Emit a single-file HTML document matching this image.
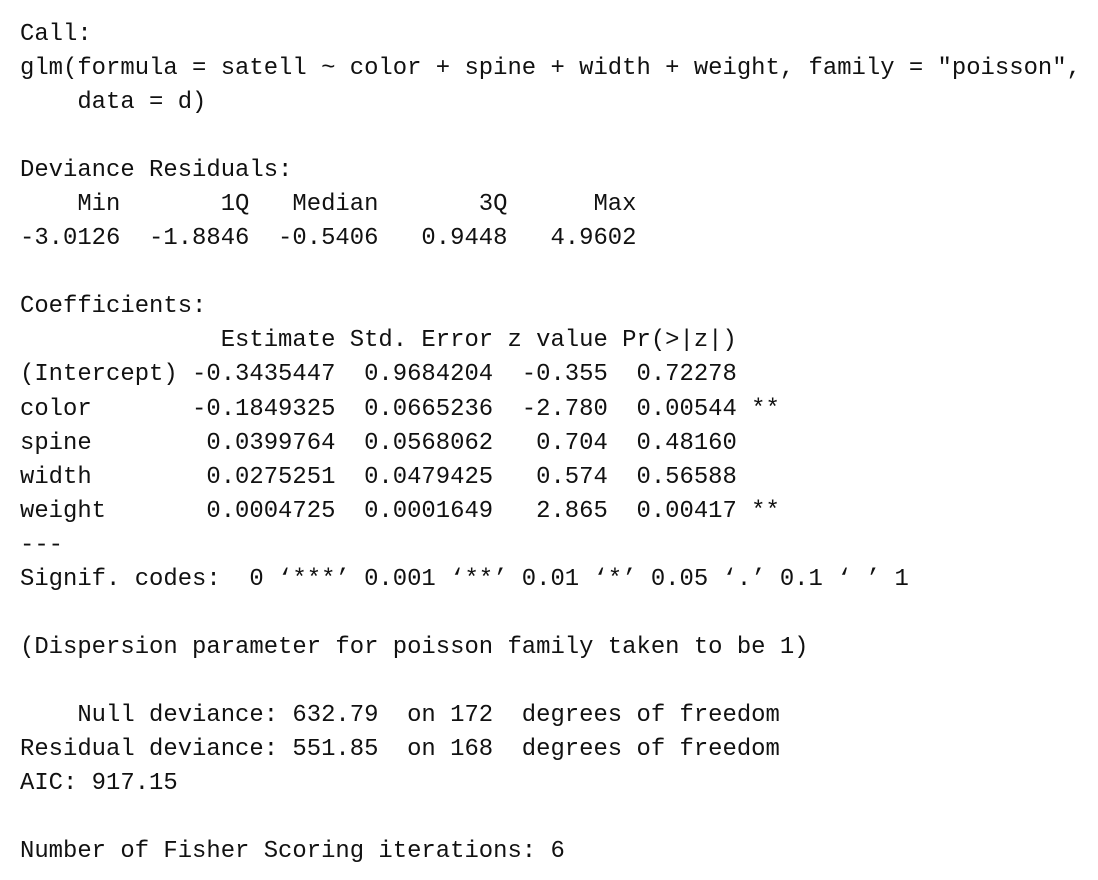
<!DOCTYPE html>
<html><head><meta charset="utf-8"><style>
html,body{margin:0;padding:0;background:#fff;width:1098px;height:880px;overflow:hidden}
pre{position:absolute;left:20px;top:18px;margin:0;font-family:"Liberation Mono","DejaVu Sans Mono",monospace;font-size:23.9px;line-height:34.05px;color:#111;white-space:pre}
</style></head><body><pre>Call:
glm(formula = satell ~ color + spine + width + weight, family = "poisson",
    data = d)

Deviance Residuals:
    Min       1Q   Median       3Q      Max
-3.0126  -1.8846  -0.5406   0.9448   4.9602

Coefficients:
              Estimate Std. Error z value Pr(&gt;|z|)
(Intercept) -0.3435447  0.9684204  -0.355  0.72278
color       -0.1849325  0.0665236  -2.780  0.00544 **
spine        0.0399764  0.0568062   0.704  0.48160
width        0.0275251  0.0479425   0.574  0.56588
weight       0.0004725  0.0001649   2.865  0.00417 **
---
Signif. codes:  0 ‘***’ 0.001 ‘**’ 0.01 ‘*’ 0.05 ‘.’ 0.1 ‘ ’ 1

(Dispersion parameter for poisson family taken to be 1)

    Null deviance: 632.79  on 172  degrees of freedom
Residual deviance: 551.85  on 168  degrees of freedom
AIC: 917.15

Number of Fisher Scoring iterations: 6</pre></body></html>
